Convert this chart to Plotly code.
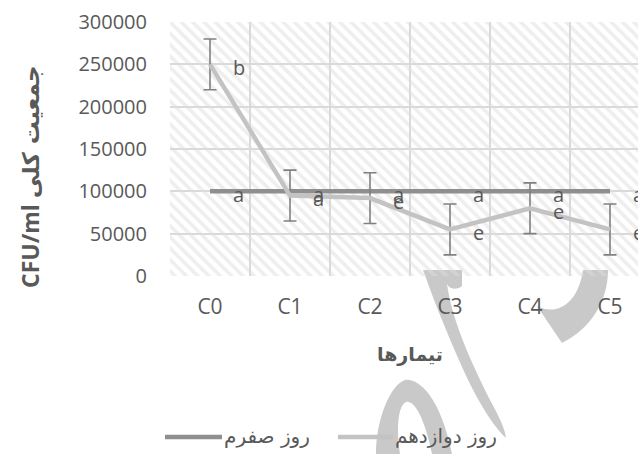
import plotly.graph_objects as go

# Treatments and mean total counts (CFU/ml)
treatments = ["C0", "C1", "C2", "C3", "C4", "C5"]
day0_values = [100000, 100000, 100000, 100000, 100000, 100000]
day12_values = [250000, 95000, 92000, 55000, 80000, 55000]
day12_errors = [30000, 30000, 30000, 30000, 30000, 30000]
day0_letters = ["a", "a", "a", "a", "a", "a"]
day12_letters = ["b", "a", "e", "e", "e", "e"]
y_ticks = [0, 50000, 100000, 150000, 200000, 250000, 300000]

day0_name = "روز صفرم"
day12_name = "روز دوازدهم"

x_pos = list(range(len(treatments)))
x_lo, x_hi = -0.5, len(treatments) - 0.5
y_lo, y_hi = y_ticks[0], y_ticks[-1]

W, H = 638, 454
ML, MT, MB = 170, 22, 178
PW, PH = W - ML, H - MT - MB

LATIN = "Open Sans"
ARABIC = "DejaVu Sans"
TXT = "#595959"
GRID = "#d9d9d9"
MARK = "#c9c9c9"
DAY0_COLOR = "#8f8f8f"
DAY12_COLOR = "#c3c3c3"


def px_x(px):
    return (px - ML) / PW


def px_y(py):
    return (H - MB - py) / PH


def to_paper(path_px):
    """Convert an SVG path written in page pixels to paper coordinates."""
    out = []
    for tok in path_px.split():
        if "," in tok:
            px, py = (float(v) for v in tok.split(","))
            out.append(f"{px_x(px):.4f},{px_y(py):.4f}")
        else:
            out.append(tok)
    return " ".join(out)


fig = go.Figure()

# hatched plot background
fig.add_trace(go.Scatter(
    x=[x_lo, x_hi, x_hi, x_lo, x_lo], y=[y_lo, y_lo, y_hi, y_hi, y_lo],
    mode="lines", line=dict(width=0), fill="toself",
    fillcolor="rgba(0,0,0,0)",
    fillpattern=dict(shape="\\", fgcolor="#dedede", bgcolor="rgba(0,0,0,0)",
                     size=8, solidity=0.45),
    hoverinfo="skip", showlegend=False,
))

fig.add_trace(go.Scatter(
    x=x_pos, y=day0_values, name=day0_name, mode="lines",
    line=dict(color=DAY0_COLOR, width=4.5), cliponaxis=True, showlegend=False,
))
fig.add_trace(go.Scatter(
    x=x_pos, y=day12_values, name=day12_name, mode="lines",
    line=dict(color=DAY12_COLOR, width=4.5),
    error_y=dict(type="data", array=day12_errors, visible=True,
                 color="#808080", thickness=1.6, width=6.5),
    cliponaxis=True, showlegend=False,
))

# letter labels to the right of each point
for xs, ys, letters in ((x_pos, day0_values, day0_letters),
                        (x_pos, day12_values, day12_letters)):
    for xv, yv, t in zip(xs, ys, letters):
        fig.add_annotation(x=xv, y=yv, text=t, showarrow=False,
                           xanchor="left", yanchor="middle", xshift=21, yshift=-3,
                           font=dict(family=LATIN, size=20, color=TXT))

# axis titles
fig.add_annotation(xref="paper", yref="paper", x=0.513, y=-0.31,
                   text="<b>تیمارها</b>", showarrow=False,
                   xanchor="center", yanchor="middle",
                   font=dict(family=ARABIC, size=19, color=TXT))
fig.add_annotation(xref="paper", yref="paper", x=-0.299, y=0.39,
                   text="<b>CFU/ml <span style='font-family:DejaVu Sans'>جمعیت کلی</span></b>",
                   textangle=-90, showarrow=False,
                   xanchor="center", yanchor="middle",
                   font=dict(family=LATIN, size=23, color=TXT))

# legend: a long line sample followed by the series name
legend_items = [(day0_name, DAY0_COLOR, 165, 222), (day12_name, DAY12_COLOR, 338, 393)]
legend_y = 437
for name, color, x0, x1 in legend_items:
    fig.add_shape(type="line", xref="paper", yref="paper",
                  x0=px_x(x0), x1=px_x(x1), y0=px_y(legend_y), y1=px_y(legend_y),
                  line=dict(color=color, width=4.5))
    fig.add_annotation(xref="paper", yref="paper", x=px_x(x1), y=px_y(legend_y - 1),
                       text=name, showarrow=False, xanchor="left", yanchor="middle",
                       xshift=0, font=dict(family=ARABIC, size=20, color=TXT))

# light calligraphic logo behind the lower part of the page
logo_paths = [
    # tall stroke with a curled head
    "M 423,270 L 462,270 L 462,286 C 458,290 450,290 447,284 "
    "C 452,320 470,360 490,400 C 498,415 505,428 506,438 "
    "C 492,425 478,400 468,380 C 452,345 438,312 423,270 Z",
    # left loop
    "M 376,454 C 376,420 390,385 405,380 C 418,378 440,395 452,454 "
    "L 432,454 C 425,420 415,400 406,402 C 398,405 396,430 400,454 Z",
    # curl at the right
    "M 583,270 L 608,270 C 608,300 592,328 562,343 L 537,306 "
    "C 556,316 578,305 583,270 Z",
]
for p in logo_paths:
    fig.add_shape(type="path", xref="paper", yref="paper", path=to_paper(p),
                  fillcolor=MARK, line=dict(width=0), layer="below")

fig.update_layout(
    width=W, height=H,
    margin=dict(l=ML, r=0, t=MT, b=MB, autoexpand=False),
    paper_bgcolor="white", plot_bgcolor="white",
    showlegend=False,
)
fig.update_xaxes(
    range=[x_lo, x_lo + PW / 80], tickmode="array", tickvals=x_pos, ticktext=treatments,
    showgrid=False, zeroline=False, showline=False, ticks="",
    tickfont=dict(family=LATIN, size=21, color=TXT), ticklabelstandoff=16,
    minor=dict(tickmode="array", tickvals=[v + 0.5 for v in [-1] + x_pos],
               showgrid=True, gridcolor=GRID, gridwidth=1.5, ticks=""),
)
fig.update_yaxes(
    range=[y_lo, y_hi], tickmode="array", tickvals=y_ticks,
    ticktext=[str(v) for v in y_ticks],
    showgrid=True, gridcolor=GRID, gridwidth=1.5, zeroline=False, showline=False,
    tickfont=dict(family=LATIN, size=20, color=TXT), ticklabelstandoff=22,
)

fig.write_html("out.html")
